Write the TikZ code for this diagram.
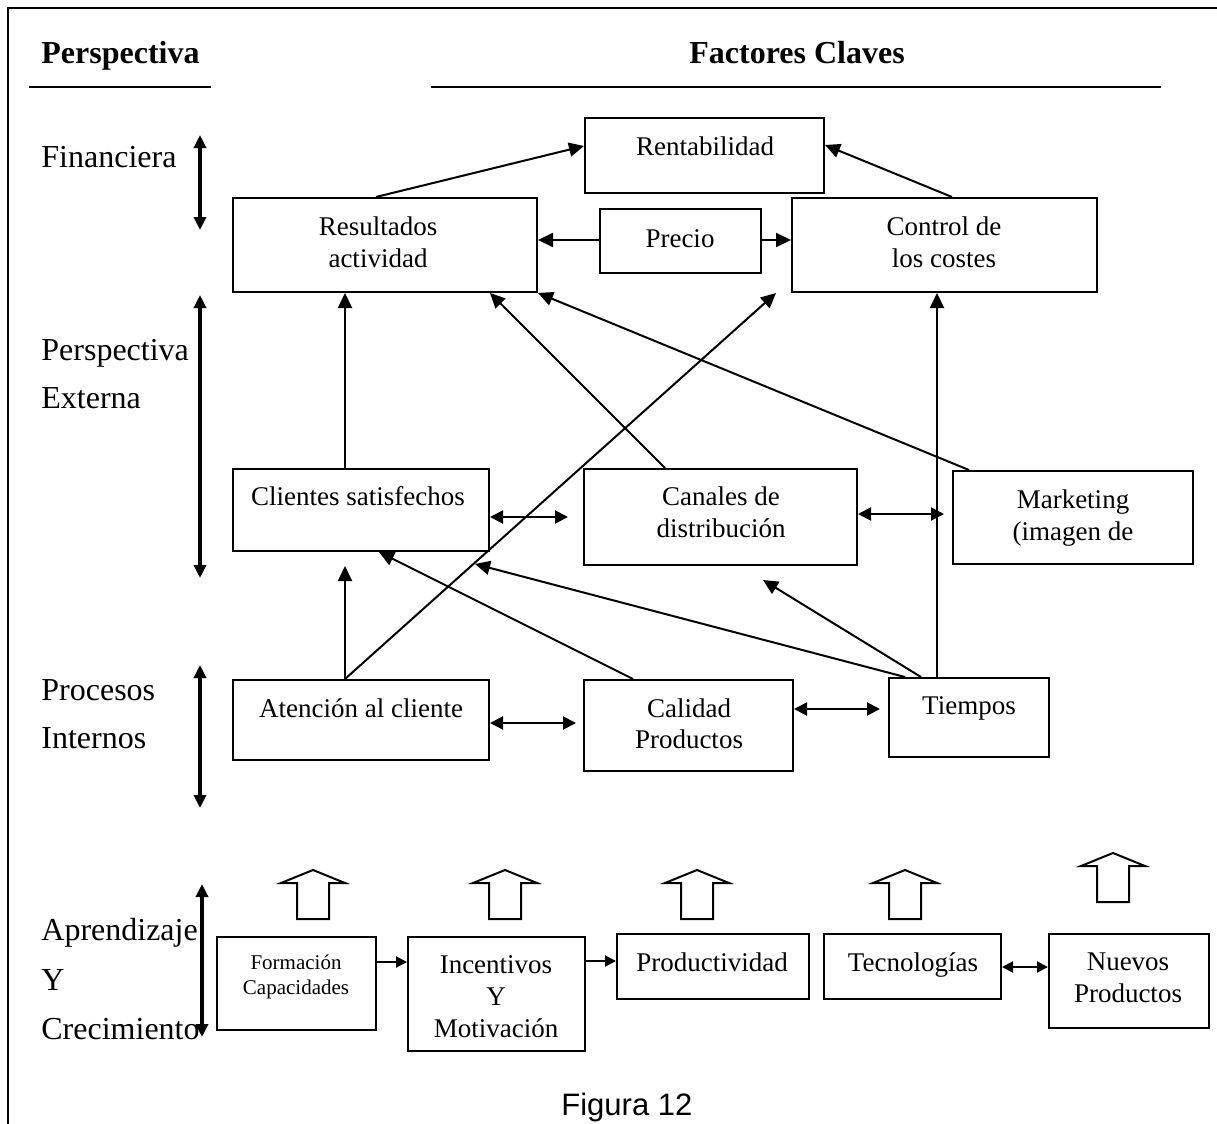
\documentclass[tikz,border=0pt]{standalone}
\usepackage{fontspec}
\setmainfont{Liberation Serif}
\newfontfamily\figfont{Liberation Sans}
\usetikzlibrary{arrows.meta,fit,calc}
\newcommand\hollowup[4]{\draw[hollowarrow] (#1-16,#4) -- (#1-16,#3) -- (#1-32,#3) -- (#1,#2) -- (#1+32,#3) -- (#1+16,#3) -- (#1+16,#4) -- cycle;}
\begin{document}
\begin{tikzpicture}[x=0.5pt,y=-0.5pt,
  box/.style={draw,line width=1pt,inner sep=0pt,rectangle},
  txt/.style={inner sep=0pt,anchor=base,font=\fontsize{13.5}{16}\selectfont},
  smalltxt/.style={inner sep=0pt,anchor=base,font=\fontsize{10.5}{12}\selectfont},
  sidelabel/.style={inner sep=0pt,anchor=base west,font=\fontsize{16}{19}\selectfont},
  heading/.style={inner sep=0pt,anchor=base west,font=\fontsize{16}{19}\selectfont\bfseries},
  conn/.style={line width=1pt,-{Triangle[length=7.5pt,width=7pt]}},
  dconn/.style={line width=1pt,{Triangle[length=6.5pt,width=6.5pt]}-{Triangle[length=6.5pt,width=6.5pt]}},
  sdconn/.style={line width=1pt,{Triangle[length=5.5pt,width=5.5pt]}-{Triangle[length=5.5pt,width=5.5pt]}},
  bigarrow/.style={line width=2pt,{Triangle[length=6.5pt,width=6pt]}-{Triangle[length=6.5pt,width=6pt]}},
  hollowarrow/.style={draw,line width=1pt,fill=white,line join=miter}]
\useasboundingbox (0,0) rectangle (1217,1124);

% frame
\draw[line width=1.2pt] (8,1130) -- (8,8) -- (1225,8);

% headings
\node[heading] (hp) at (41,63) {Perspectiva};
\node[heading] (hf) at (689,63) {Factores Claves};
\draw[line width=1.3pt] (29,87) -- (211,87);
\draw[line width=1.3pt] (431,87) -- (1161,87);

% side labels
\node[sidelabel] (l1) at (41,167) {Financiera};
\node[sidelabel] (l2) at (41,360) {Perspectiva};
\node[sidelabel] (l3) at (41,408) {Externa};
\node[sidelabel] (l4) at (41,700) {Procesos};
\node[sidelabel] (l5) at (41,748) {Internos};
\node[sidelabel] (l6) at (41,940) {Aprendizaje};
\node[sidelabel] (l7) at (41,990) {Y};
\node[sidelabel] (l8) at (41,1039) {Crecimiento};

% side arrows
\coordinate (sa1) at (200,135); \coordinate (sb1) at (200,230);
\coordinate (sa2) at (200,295); \coordinate (sb2) at (200,578);
\coordinate (sa3) at (200,665); \coordinate (sb3) at (200,808);
\coordinate (sa4) at (202,884); \coordinate (sb4) at (202,1037);
\draw[bigarrow] (sa1) -- (sb1);
\draw[bigarrow] (sa2) -- (sb2);
\draw[bigarrow] (sa3) -- (sb3);
\draw[bigarrow] (sa4) -- (sb4);

% boxes
\node[box,fit={(585,118) (824,193)}] (rent) {};
\node[box,fit={(233,198) (537,292)}] (res) {};
\node[box,fit={(600,209) (761,273)}] (pre) {};
\node[box,fit={(792,198) (1097,292)}] (ctrl) {};
\node[box,fit={(233,469) (489,551)}] (cli) {};
\node[box,fit={(584,469) (857,565)}] (can) {};
\node[box,fit={(953,471) (1193,564)}] (mkt) {};
\node[box,fit={(233,680) (489,760)}] (ate) {};
\node[box,fit={(584,680) (793,771)}] (cal) {};
\node[box,fit={(889,678) (1049,757)}] (tie) {};
\node[box,fit={(217,937) (376,1030)}] (form) {};
\node[box,fit={(408,937) (585,1051)}] (inc) {};
\node[box,fit={(617,934) (809,999)}] (prod) {};
\node[box,fit={(824,934) (1001,999)}] (tec) {};
\node[box,fit={(1049,934) (1209,1028)}] (nue) {};

% box texts
\node[txt] (t1) at (705,155) {Rentabilidad};
\node[txt] (t2) at (378,235) {Resultados};
\node[txt] (t3) at (378,267) {actividad};
\node[txt] (t4) at (680,247) {Precio};
\node[txt] (t5) at (944,235) {Control de};
\node[txt] (t6) at (944,267) {los costes};
\node[txt] (t7) at (358,505) {Clientes satisfechos};
\node[txt] (t8) at (721,505) {Canales de};
\node[txt] (t9) at (721,537) {distribución};
\node[txt] (t10) at (1073,508) {Marketing};
\node[txt] (t11) at (1073,540) {(imagen de};
\node[txt] (t12) at (361,717) {Atención al cliente};
\node[txt] (t13) at (689,717) {Calidad};
\node[txt] (t14) at (689,748) {Productos};
\node[txt] (t15) at (969,714) {Tiempos};
\node[smalltxt] (t16) at (296,969) {Formación};
\node[smalltxt] (t17) at (296,994) {Capacidades};
\node[txt] (t18) at (496,973) {Incentivos};
\node[txt] (t19) at (496,1005) {Y};
\node[txt] (t20) at (496,1037) {Motivación};
\node[txt] (t21) at (712,971) {Productividad};
\node[txt] (t22) at (913,971) {Tecnologías};
\node[txt] (t23) at (1128,970) {Nuevos};
\node[txt] (t24) at (1128,1002) {Productos};

% free ends
\coordinate (fCliUp) at (345,566);
\coordinate (fCan) at (763,580);
\coordinate (fCli) at (475,564);
\coordinate (fCanR) at (568,517);
\coordinate (fMkt) at (944,514);
\coordinate (fCal) at (576,723);
\coordinate (fTie) at (880,709);

% connectors
\draw[conn] (376,0 |- res.north) -- (rent.west |- 0,146);
\draw[conn] (952,0 |- ctrl.north) -- (rent.east |- 0,145);
\draw[conn] (pre.west |- 0,240) -- (res.east |- 0,240);
\draw[conn] (pre.east |- 0,240) -- (ctrl.west |- 0,240);
\draw[conn] (345,0 |- cli.north) -- (345,0 |- res.south);
\draw[conn] (665,0 |- can.north) -- (490,0 |- res.south);
\draw[conn] (969,0 |- mkt.north) -- (res.south east);
\draw[conn] (345,0 |- ate.north) -- (776,0 |- ctrl.south);
\draw[conn] (345,0 |- ate.north) -- (fCliUp);
\draw[conn] (937,0 |- tie.north) -- (937,0 |- ctrl.south);
\draw[conn] (921,0 |- tie.north) -- (fCan);
\draw[conn] (905,0 |- tie.north) -- (fCli);
\draw[conn] (633,0 |- cal.north) -- (379,0 |- cli.south);
\draw[dconn] (cli.east |- fCanR) -- (fCanR);
\draw[dconn] (can.east |- fMkt) -- (fMkt);
\draw[dconn] (ate.east |- fCal) -- (fCal);
\draw[dconn] (cal.east |- fTie) -- (fTie);
\draw[line width=1pt,-{Triangle[length=5.5pt,width=5.5pt]}] (form.east |- 0,962) -- (inc.west |- 0,962);
\draw[line width=1pt,-{Triangle[length=5.5pt,width=5.5pt]}] (inc.east |- 0,961) -- (prod.west |- 0,961);
\draw[sdconn] (tec.east |- 0,967) -- (nue.west |- 0,967);

% hollow block arrows
\hollowup{313}{870}{883}{919}
\hollowup{505}{870}{883}{919}
\hollowup{697}{870}{883}{919}
\hollowup{905}{870}{883}{919}
\hollowup{1113}{853}{866}{902}

% caption
\node[inner sep=0pt,anchor=base west,font=\figfont\fontsize{15.5}{18}\selectfont] (cap) at (561,1115) {Figura 12};
\end{tikzpicture}
\end{document}
